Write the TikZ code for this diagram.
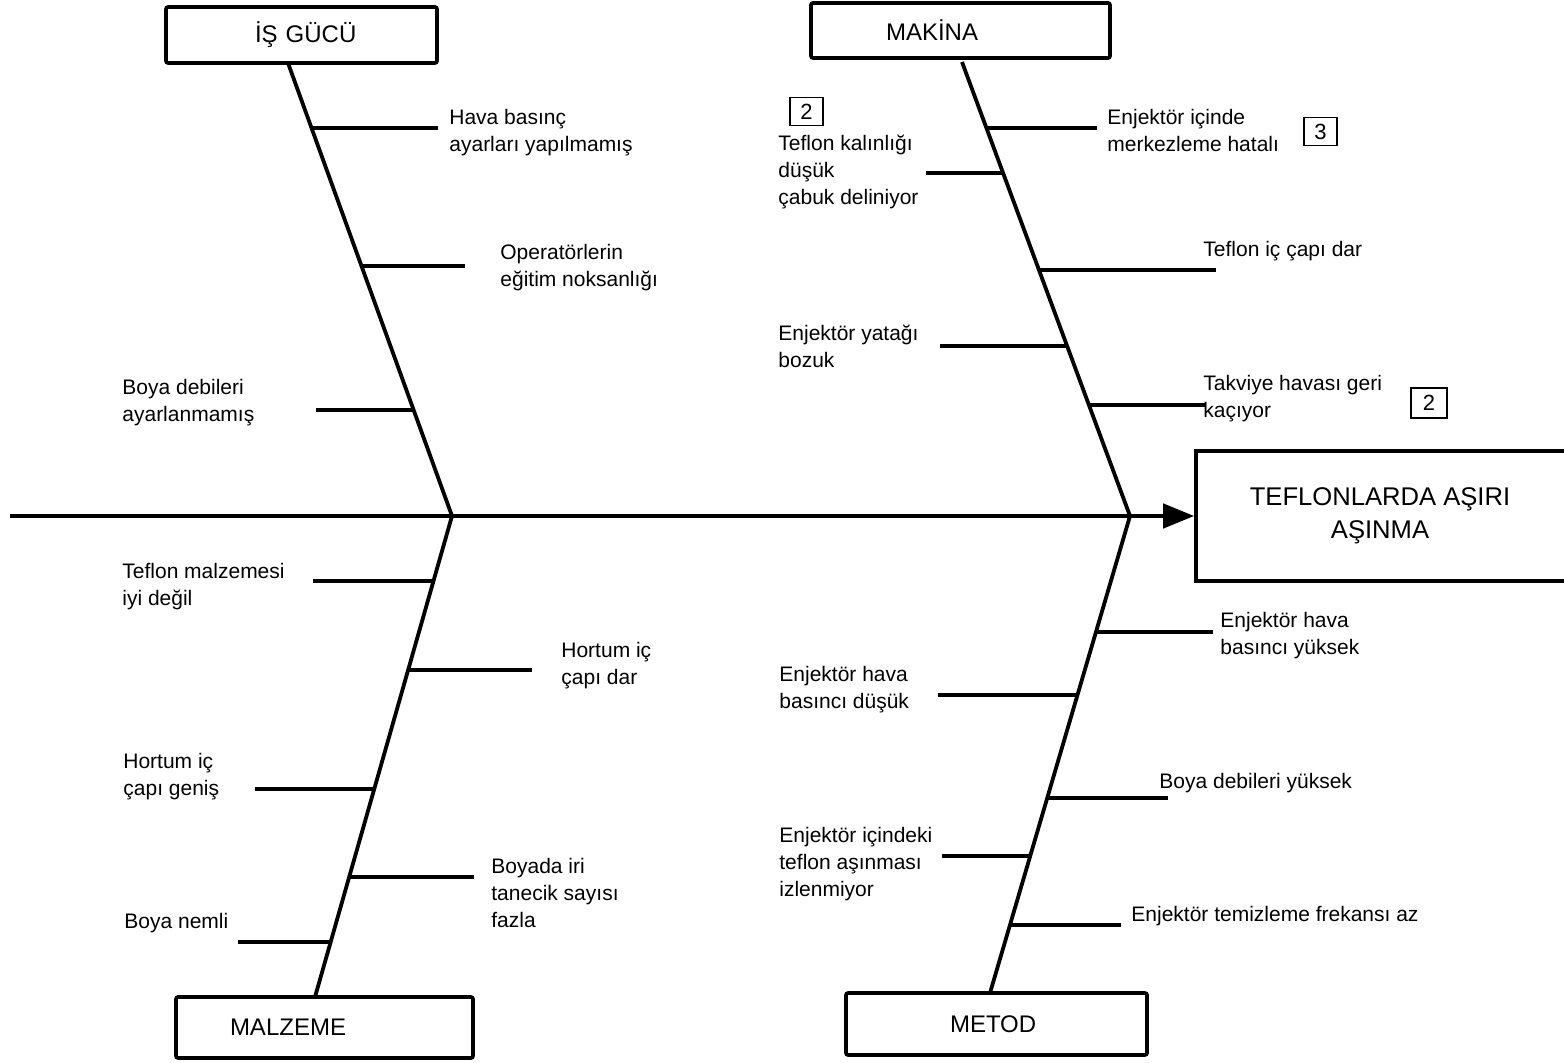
\documentclass[tikz,border=0pt]{standalone}
\usepackage{fontspec}
\setmainfont{Liberation Sans}
\usetikzlibrary{arrows.meta}
\tikzset{
  bone/.style={line width=1.9pt},
  rib/.style={line width=1.7pt},
  catbox/.style={draw, line width=1.8pt, rounded corners=1pt, inner xsep=0pt, align=left, font=\fontsize{12}{14}\selectfont},
  lbl/.style={anchor=west, align=left, inner sep=0pt, yshift=-1pt, font=\fontsize{10.5}{13.5}\selectfont},
  numbox/.style={draw, line width=0.9pt, inner sep=0pt, minimum width=16.5pt, minimum height=14pt, font=\fontsize{11}{12}\selectfont}
}
\begin{document}
\begin{tikzpicture}[x=0.5pt, y=-0.5pt]
\useasboundingbox (0,0) rectangle (1564,1063);
\node[catbox, text width=135.5pt, minimum height=28pt] (isgucu) at (301.5,35) {\hspace*{44.5pt}İŞ GÜCÜ};
\node[catbox, text width=149.5pt, minimum height=27.5pt] (makina) at (960.5,30.5) {\hspace*{37.5pt}MAKİNA};
\node[catbox, text width=148.5pt, minimum height=30.5pt] (malzeme) at (324.5,1027.5) {\hspace*{27pt}MALZEME};
\node[catbox, text width=150.5pt, minimum height=31pt] (metod) at (996.5,1024) {\hspace*{52pt}METOD};
\node[draw, line width=1.8pt, minimum width=190pt, minimum height=65pt, align=center, font=\fontsize{12.8}{16.5}\selectfont] (effect) at (1386,516) {\hspace*{-6pt}TEFLONLARDA AŞIRI\\\hspace*{-6pt}AŞINMA};
\coordinate (tail) at (10,516);
\coordinate (j1) at (452,516);
\coordinate (j2) at (1130,516);
\coordinate (b1) at (288,63);
\coordinate (b2) at (962,62);
\coordinate (b3) at (315,997);
\coordinate (b4) at (990,993);
\draw[line width=2.2pt, -{Triangle[length=15.5pt, width=12pt]}] (tail) -- (effect.west);
\draw[bone] (b1) -- (j1);
\draw[bone] (b2) -- (j2);
\draw[bone] (j1) -- (b3);
\draw[bone] (j2) -- (b4);
\coordinate (s1) at (311.5,128);  \coordinate (e1) at (438,128);
\coordinate (s2) at (361.5,266);  \coordinate (e2) at (465,266);
\coordinate (s3) at (413.6,410);  \coordinate (e3) at (316,410);
\draw[rib] (s1) -- (e1);
\draw[rib] (s2) -- (e2);
\draw[rib] (s3) -- (e3);
\node[lbl] (t1) at (449,131) {Hava basınç\\ayarları yapılmamış};
\node[lbl] (t2) at (500,265.5) {Operatörlerin\\eğitim noksanlığı};
\node[lbl] (t3) at (122,401) {Boya debileri\\ayarlanmamış};
\coordinate (s4) at (986.4,128);  \coordinate (e4) at (1097,128);
\coordinate (s5) at (1003.1,173); \coordinate (e5) at (926,173);
\coordinate (s6) at (1039,270);   \coordinate (e6) at (1216,270);
\coordinate (s7) at (1067,346);   \coordinate (e7) at (940,346);
\coordinate (s8) at (1088.9,405); \coordinate (e8) at (1205,405);
\draw[rib] (s4) -- (e4);
\draw[rib] (s5) -- (e5);
\draw[rib] (s6) -- (e6);
\draw[rib] (s7) -- (e7);
\draw[rib] (s8) -- (e8);
\node[lbl] (t4) at (1107,128.5) {Enjektör içinde\\merkezleme hatalı};
\node[lbl] (t5) at (778,170) {Teflon kalınlığı\\düşük\\çabuk deliniyor};
\node[lbl] (t6) at (1203,249) {Teflon iç çapı dar};
\node[lbl] (t7) at (778,344) {Enjektör yatağı\\bozuk};
\node[lbl] (t8) at (1203,396.5) {Takviye havası geri\\kaçıyor};
\node[numbox] (n1) at (806.5,111.5) {2};
\node[numbox] (n2) at (1320.5,131.5) {3};
\node[numbox, minimum width=18pt, minimum height=15pt] (n3) at (1429,403) {2};
\coordinate (s9) at (433.5,581);  \coordinate (e9) at (313,581);
\coordinate (s10) at (408.1,670); \coordinate (e10) at (532,670);
\coordinate (s11) at (374.2,789); \coordinate (e11) at (255,789);
\coordinate (s12) at (349.2,877); \coordinate (e12) at (474,877);
\coordinate (s13) at (330.7,942); \coordinate (e13) at (238,942);
\draw[rib] (s9) -- (e9);
\draw[rib] (s10) -- (e10);
\draw[rib] (s11) -- (e11);
\draw[rib] (s12) -- (e12);
\draw[rib] (s13) -- (e13);
\node[lbl] (t9) at (122,584.5) {Teflon malzemesi\\iyi değil};
\node[lbl] (t10) at (561,664) {Hortum iç\\çapı dar};
\node[lbl] (t11) at (123,775) {Hortum iç\\çapı geniş};
\node[lbl] (t12) at (491,891) {Boyada iri\\tanecik sayısı\\fazla};
\node[lbl] (t13) at (124,921) {Boya nemli};
\coordinate (s14) at (1096,632);   \coordinate (e14) at (1213,632);
\coordinate (s15) at (1077.5,695); \coordinate (e15) at (938,695);
\coordinate (s16) at (1047.2,798); \coordinate (e16) at (1168,798);
\coordinate (s17) at (1030.2,856); \coordinate (e17) at (942,856);
\coordinate (s18) at (1010,925);   \coordinate (e18) at (1121,925);
\draw[rib] (s14) -- (e14);
\draw[rib] (s15) -- (e15);
\draw[rib] (s16) -- (e16);
\draw[rib] (s17) -- (e17);
\draw[rib] (s18) -- (e18);
\node[lbl] (t14) at (1220,633.5) {Enjektör hava\\basıncı yüksek};
\node[lbl] (t15) at (779,688) {Enjektör hava\\basıncı düşük};
\node[lbl] (t16) at (1159,781) {Boya debileri yüksek};
\node[lbl] (t17) at (779,862) {Enjektör içindeki\\teflon aşınması\\izlenmiyor};
\node[lbl] (t18) at (1131,914) {Enjektör temizleme frekansı az};
\end{tikzpicture}
\end{document}
